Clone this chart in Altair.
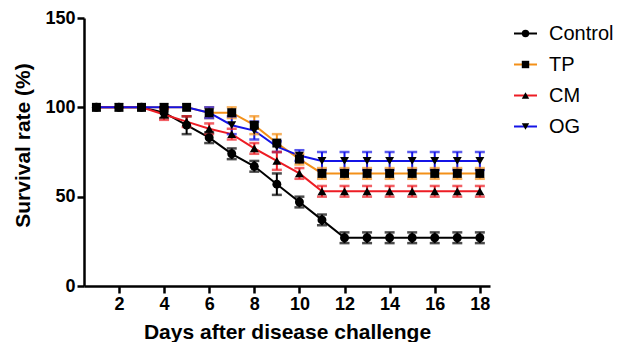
import altair as alt
import pandas as pd

days = list(range(1, 19))
series_names = ["Control", "TP", "CM", "OG"]
series_colors = ["#000000", "#f39019", "#ed1c24", "#1414e6"]
series_shapes = ["circle", "square", "triangle-up", "triangle-down"]

control = [100, 100, 100, 97, 90, 83, 74, 67, 57, 47, 37, 27, 27, 27, 27, 27, 27, 27]
control_err = [0, 0, 0, 3, 5, 3, 3, 3, 6, 3, 3, 3, 3, 3, 3, 3, 3, 3]
tp = [100, 100, 100, 100, 100, 97, 97, 90, 80, 71, 63, 63, 63, 63, 63, 63, 63, 63]
tp_err = [0, 0, 0, 0, 0, 3, 3, 5, 5, 3, 3, 3, 3, 3, 3, 3, 3, 3]
cm = [100, 100, 100, 96, 92, 88, 85, 77, 70, 63, 53, 53, 53, 53, 53, 53, 53, 53]
cm_err = [0, 0, 0, 3, 3, 3, 3, 3, 5, 3, 3, 3, 3, 3, 3, 3, 3, 3]
og = [100, 100, 100, 100, 100, 97, 90, 87, 78, 73, 70, 70, 70, 70, 70, 70, 70, 70]
og_err = [0, 0, 0, 0, 0, 3, 5, 5, 3, 3, 5, 5, 5, 5, 5, 5, 5, 5]

x_ticks = [2, 4, 6, 8, 10, 12, 14, 16, 18]
y_ticks = [0, 50, 100, 150]

rows = []
for name, vals, errs in [("Control", control, control_err), ("TP", tp, tp_err),
                         ("CM", cm, cm_err), ("OG", og, og_err)]:
    for d, v, e in zip(days, vals, errs):
        rows.append({"day": d, "value": v, "err": e, "low": v - e, "high": v + e, "series": name})
df = pd.DataFrame(rows)
df_err = df[df["err"] > 0]

FONT = "Liberation Sans"

x_enc = alt.X("day:Q", scale=alt.Scale(domain=[0.45, 18.45], nice=False, zero=False),
              axis=alt.Axis(values=x_ticks, title="Days after disease challenge", grid=False,
                            domainWidth=2.5, tickWidth=2.5, tickSize=7, domainColor="black",
                            tickColor="black", labelColor="black", titleColor="black",
                            labelFontSize=18, labelFontWeight="bold", labelFont=FONT,
                            titleFont=FONT, titleFontSize=21, titleFontWeight="bold",
                            labelPadding=2, titlePadding=8, labelFlush=False))
y_scale = alt.Scale(domain=[0, 150], nice=False)
y_axis = alt.Axis(values=y_ticks, title="Survival rate (%)", grid=False,
                  domainWidth=2.5, tickWidth=2.5, tickSize=7, domainColor="black",
                  tickColor="black", labelColor="black", titleColor="black",
                  labelFontSize=18, labelFontWeight="bold", labelFont=FONT,
                  titleFont=FONT, titleFontSize=21, titleFontWeight="bold",
                  labelPadding=2, titlePadding=11, titleY=127)

color_enc = alt.Color("series:N", scale=alt.Scale(domain=series_names, range=series_colors), legend=None)

base = alt.Chart(df)
lines = base.mark_line(strokeWidth=2).encode(
    x=x_enc, y=alt.Y("value:Q", scale=y_scale, axis=y_axis), color=color_enc, detail="series:N")
ebase = alt.Chart(df_err)
rules = ebase.mark_rule(strokeWidth=2).encode(
    x="day:Q", y=alt.Y("low:Q"), y2="high:Q", color=color_enc)
cap_lo = ebase.mark_tick(orient="horizontal", size=10, thickness=2.5).encode(
    x="day:Q", y="low:Q", color=color_enc)
cap_hi = ebase.mark_tick(orient="horizontal", size=10, thickness=2.5).encode(
    x="day:Q", y="high:Q", color=color_enc)
points = base.mark_point(filled=True, size=80, opacity=1).encode(
    x="day:Q", y="value:Q",
    shape=alt.Shape("series:N", scale=alt.Scale(domain=series_names, range=series_shapes), legend=None),
    color=alt.value("black"))

main = alt.layer(lines, rules, cap_lo, cap_hi, points).properties(width=406, height=268)

# legend panel
leg_df = pd.DataFrame({"series": series_names})
leg_y = alt.Y("series:N", sort=series_names, axis=None, scale=alt.Scale(type="point", padding=0.5))
leg_base = alt.Chart(leg_df)
leg_line = leg_base.mark_rule(strokeWidth=2).encode(
    y=leg_y, x=alt.value(0), x2=alt.value(23), color=color_enc)
leg_pt = leg_base.mark_point(filled=True, size=55, opacity=1).encode(
    y=leg_y, x=alt.value(11.5), color=alt.value("black"),
    shape=alt.Shape("series:N", scale=alt.Scale(domain=series_names, range=series_shapes), legend=None))
leg_txt = leg_base.mark_text(align="left", baseline="middle", fontSize=20, font=FONT, color="black").encode(
    y=leg_y, x=alt.value(35), text="series:N")
legend = alt.layer(leg_line, leg_pt, leg_txt).properties(width=95, height=124)

chart = alt.hconcat(main, legend, spacing=23).properties(
    padding={"left": 4, "top": 1, "right": 0, "bottom": 0}
).configure_view(stroke=None).configure_concat(spacing=23)

chart.save("out.html", embed_options={"renderer": "svg", "actions": False})
